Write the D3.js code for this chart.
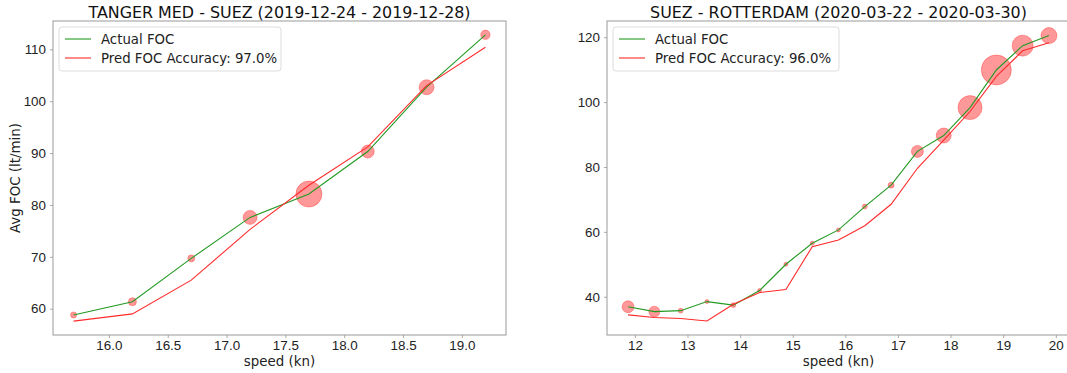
<!DOCTYPE html>
<html lang="en">
<head>
  <meta charset="UTF-8">
  <title>Actual vs Pred FOC</title>
  <script src="https://d3js.org/d3.v7.min.js"></script>
  <style>
    html, body { margin:0; background:#fff; }
    svg { display:block; font-family:"DejaVu Sans", sans-serif; }
    .spine { fill:none; stroke:#999; stroke-width:1; }
    .tick line { stroke:#aaa; }
    .tick text { font-size:13.4px; fill:#222; }
    .title { font-size:15.9px; fill:#111; text-anchor:middle; }
    .label { font-size:13.4px; fill:#222; text-anchor:middle; }
    .legend text { font-size:13.3px; fill:#222; }
  </style>
</head>
<body>
<svg id="chart" width="1067" height="373"></svg>
<script>
  // left route
  const leftSpeed  = [15.7, 16.2, 16.7, 17.2, 17.7, 18.2, 18.7, 19.2];
  const leftActual = [58.8, 61.35, 69.7, 77.6, 82.1, 90.3, 102.7, 112.8];
  const leftPred   = [57.6, 59.0, 65.5, 75.3, 83.8, 91.2, 103.0, 110.4];
  const leftCount  = [9, 16, 12, 49, 169, 42, 56, 22];
  const leftTicksX = [16.0, 16.5, 17.0, 17.5, 18.0, 18.5, 19.0];
  const leftTicksY = [60, 70, 80, 90, 100, 110];

  // right route
  const rightSpeed  = [11.87, 12.37, 12.87, 13.37, 13.87, 14.37, 14.87, 15.37, 15.87,
                       16.37, 16.87, 17.37, 17.87, 18.37, 18.87, 19.37, 19.87];
  const rightActual = [36.9, 35.4, 35.7, 38.5, 37.4, 41.9, 50.0, 56.5, 60.6,
                       67.8, 74.4, 84.8, 89.7, 98.3, 109.9, 117.4, 120.5];
  const rightPred   = [34.4, 33.6, 33.3, 32.5, 37.7, 41.3, 42.2, 55.4, 57.5,
                       61.9, 68.5, 79.6, 88.3, 97.1, 107.9, 115.8, 118.3];
  const rightCount  = [36, 30, 6, 4, 6, 4, 4, 4, 4, 6, 9, 36, 56, 144, 225, 110, 64];
  const rightTicksX = [12, 13, 14, 15, 16, 17, 18, 19, 20];
  const rightTicksY = [40, 60, 80, 100, 120];

  const GREEN = "#229a22", RED = "#ff2a2a";

  const svg = d3.select("#chart");
  const rScale = d3.scaleSqrt().domain([0, 225]).range([0, 15]);

  function panel(cfg) {
    const {left, right, top, bottom} = cfg.box;
    const x = d3.scaleLinear().domain(cfg.xDomain).range([left, right]);
    const y = d3.scaleLinear().domain(cfg.yDomain).range([bottom, top]);
    const g = svg.append("g");

    const clipId = "clip" + cfg.id;
    g.append("clipPath").attr("id", clipId)
      .append("rect").attr("x", left).attr("y", top)
      .attr("width", right - left).attr("height", bottom - top);

    const rows = cfg.speed.map((s, i) => ({s, a: cfg.actual[i], p: cfg.pred[i], n: cfg.count[i]}));
    const plot = g.append("g").attr("clip-path", `url(#${clipId})`);

    plot.selectAll("circle")
      .data(rows)
      .join("circle")
        .attr("cx", d => x(d.s))
        .attr("cy", d => y(d.a))
        .attr("r", d => rScale(d.n))
        .attr("fill", "red").attr("fill-opacity", 0.4)
        .attr("stroke", "red").attr("stroke-opacity", 0.3).attr("stroke-width", 1);

    const line = key => d3.line().x(d => x(d.s)).y(d => y(d[key]));
    plot.append("path").datum(rows)
      .attr("fill", "none").attr("stroke", GREEN).attr("stroke-width", 1.1)
      .attr("d", line("a"));
    plot.append("path").datum(rows)
      .attr("fill", "none").attr("stroke", RED).attr("stroke-width", 1.1)
      .attr("d", line("p"));

    g.append("g").attr("transform", `translate(0,${bottom})`)
      .call(d3.axisBottom(x).tickValues(cfg.ticksX).tickFormat(cfg.fmtX).tickSize(3).tickPadding(2))
      .call(a => a.select(".domain").remove());
    g.append("g").attr("transform", `translate(${left},0)`)
      .call(d3.axisLeft(y).tickValues(cfg.ticksY).tickFormat(d3.format("d")).tickSize(3).tickPadding(4))
      .call(a => a.select(".domain").remove());
    g.selectAll(".tick text").attr("font-family", null).attr("font-size", null);

    g.append("rect").attr("class", "spine")
      .attr("x", left).attr("y", top)
      .attr("width", right - left).attr("height", bottom - top);

    const cx = (left + right) / 2;
    g.append("text").attr("class", "title").attr("x", cx).attr("y", 18).text(cfg.title);
    g.append("text").attr("class", "label").attr("x", cx).attr("y", 366).text("speed (kn)");
    if (cfg.yLabel) {
      g.append("text").attr("class", "label")
        .attr("transform", `translate(20,${(top + bottom) / 2}) rotate(-90)`)
        .text(cfg.yLabel);
    }

    const lg = g.append("g").attr("class", "legend").attr("transform", `translate(${left + 6},${top + 6})`);
    lg.append("rect").attr("width", cfg.legendW).attr("height", 44).attr("rx", 3)
      .attr("fill", "#fff").attr("fill-opacity", 0.8).attr("stroke", "#ddd");
    const items = [["Actual FOC", GREEN], [`Pred FOC Accuracy: ${cfg.acc}`, RED]];
    items.forEach(([t, c], i) => {
      const yy = 12 + i * 19;
      lg.append("line").attr("x1", 6).attr("x2", 32).attr("y1", yy).attr("y2", yy)
        .attr("stroke", c).attr("stroke-width", 1.1);
      lg.append("text").attr("x", 42).attr("y", yy + 4.8).text(t);
    });
  }

  panel({
    id: "L", box: {left: 53, right: 506, top: 21, bottom: 335},
    xDomain: [15.525, 19.375], yDomain: [54.93, 115.46],
    speed: leftSpeed, actual: leftActual, pred: leftPred, count: leftCount,
    ticksX: leftTicksX, ticksY: leftTicksY, fmtX: d3.format(".1f"),
    title: "TANGER MED - SUEZ (2019-12-24 - 2019-12-28)",
    yLabel: "Avg FOC (lt/min)", acc: "97.0%", legendW: 222
  });

  panel({
    id: "R", box: {left: 607, right: 1070, top: 21, bottom: 335},
    xDomain: [11.47, 20.27], yDomain: [28.2, 125.0],
    speed: rightSpeed, actual: rightActual, pred: rightPred, count: rightCount,
    ticksX: rightTicksX, ticksY: rightTicksY, fmtX: d3.format("d"),
    title: "SUEZ - ROTTERDAM (2020-03-22 - 2020-03-30)",
    yLabel: null, acc: "96.0%", legendW: 226
  });
</script>
</body>
</html>
